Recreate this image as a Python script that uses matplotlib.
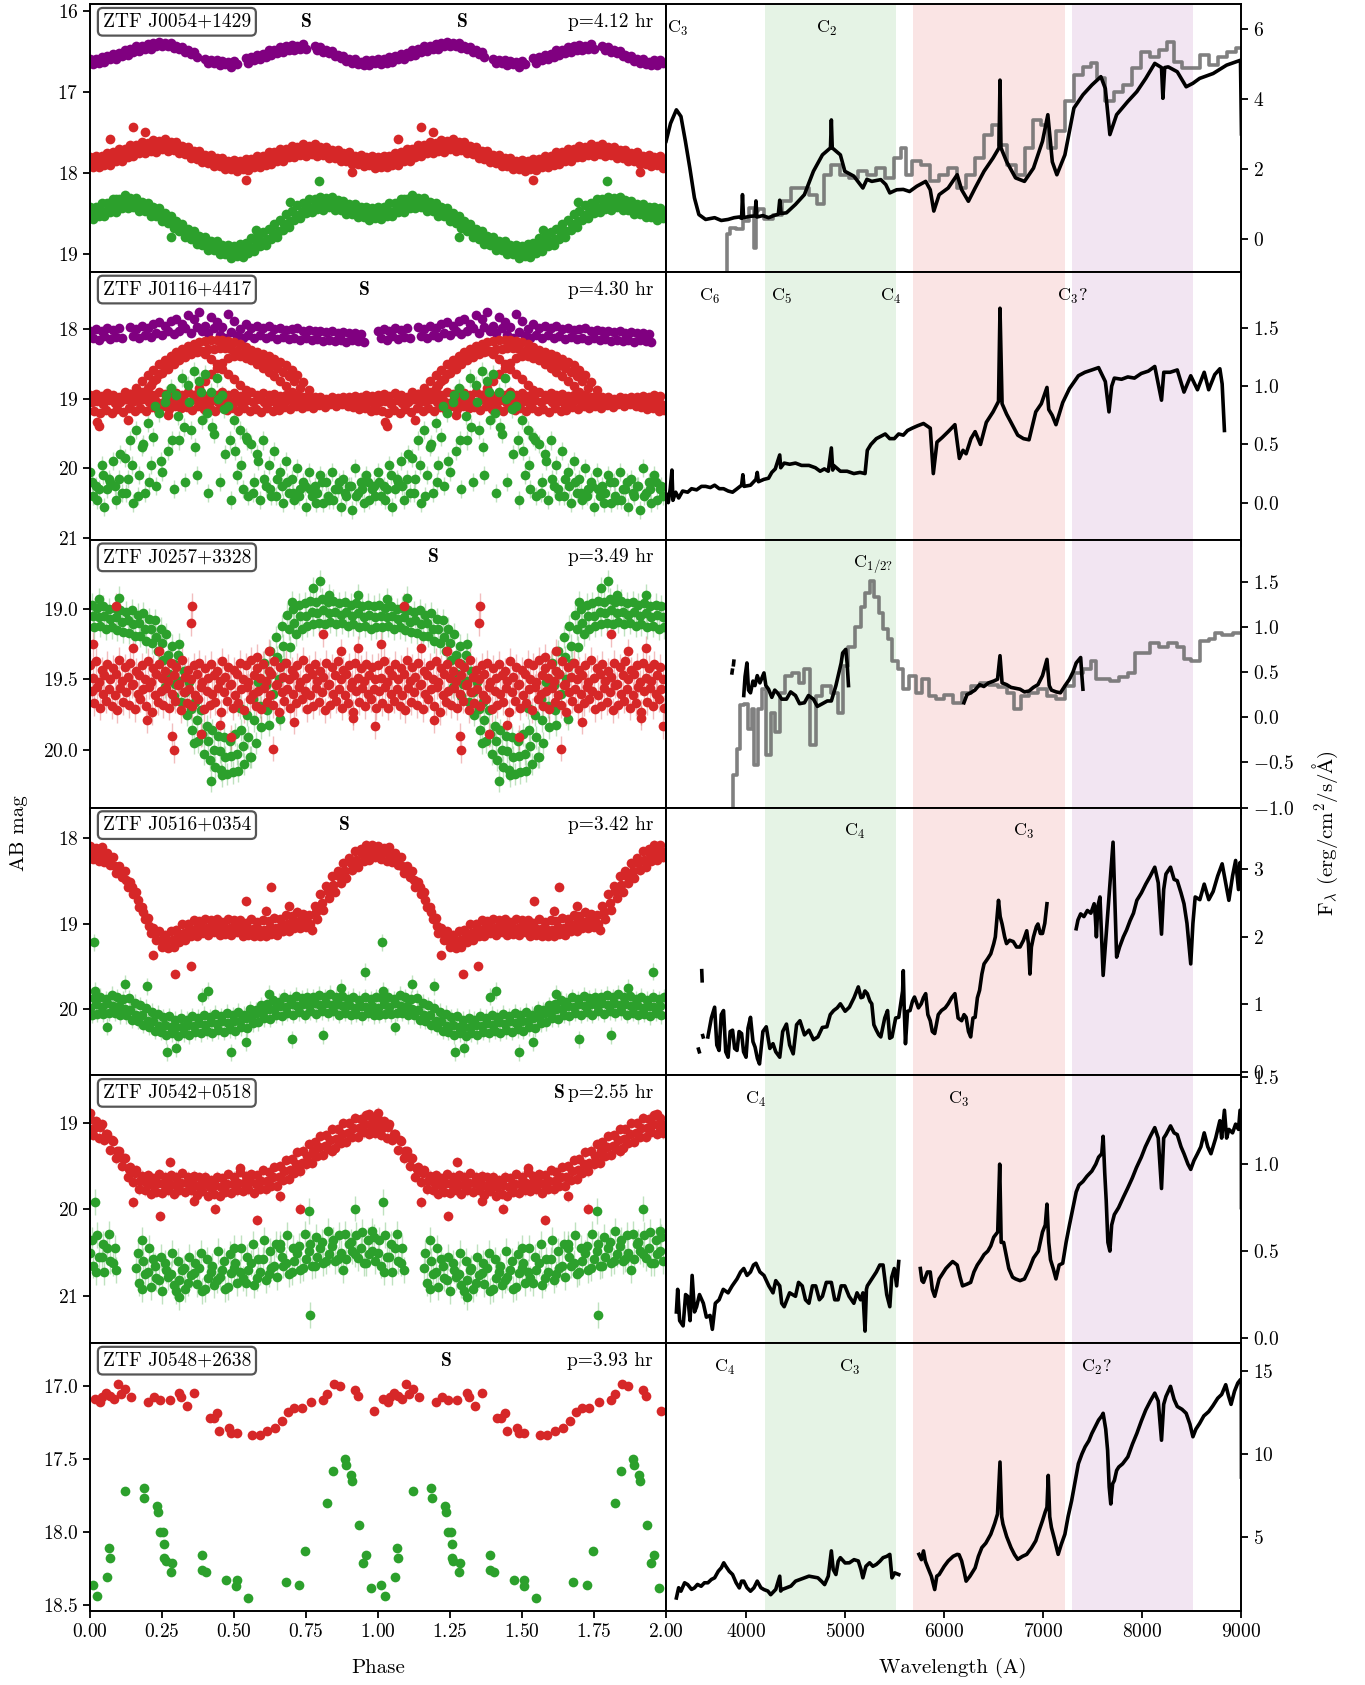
import numpy as np
import matplotlib.pyplot as plt

plt.rcParams.update({
    'font.family': 'serif',
    'font.serif': ['cmr10'],
    'mathtext.fontset': 'cm',
    'axes.formatter.use_mathtext': True,
    'axes.unicode_minus': False,
    'font.size': 14,
    'axes.linewidth': 1.4,
})
nan = np.nan

# ---------------------------------------------------------------- phase grids
PHASE = [0.00, 0.02, 0.04, 0.06, 0.08, 0.10, 0.12, 0.14, 0.16, 0.18,
         0.20, 0.22, 0.24, 0.26, 0.28, 0.30, 0.32, 0.34, 0.36, 0.38,
         0.40, 0.42, 0.44, 0.46, 0.48, 0.50, 0.52, 0.54, 0.56, 0.58,
         0.60, 0.62, 0.64, 0.66, 0.68, 0.70, 0.72, 0.74, 0.76, 0.78,
         0.80, 0.82, 0.84, 0.86, 0.88, 0.90, 0.92, 0.94, 0.96, 0.98]
PHASE_B = [0.01, 0.03, 0.05, 0.07, 0.09, 0.11, 0.13, 0.15, 0.17, 0.19,
           0.21, 0.23, 0.25, 0.27, 0.29, 0.31, 0.33, 0.35, 0.37, 0.39,
           0.41, 0.43, 0.45, 0.47, 0.49, 0.51, 0.53, 0.55, 0.57, 0.59,
           0.61, 0.63, 0.65, 0.67, 0.69, 0.71, 0.73, 0.75, 0.77, 0.79,
           0.81, 0.83, 0.85, 0.87, 0.89, 0.91, 0.93, 0.95, 0.97, 0.99]
PHASE_C = [0.005, 0.025, 0.045, 0.065, 0.085, 0.105, 0.125, 0.145, 0.165, 0.185,
           0.205, 0.225, 0.245, 0.265, 0.285, 0.305, 0.325, 0.345, 0.365, 0.385,
           0.405, 0.425, 0.445, 0.465, 0.485, 0.505, 0.525, 0.545, 0.565, 0.585,
           0.605, 0.625, 0.645, 0.665, 0.685, 0.705, 0.725, 0.745, 0.765, 0.785,
           0.805, 0.825, 0.845, 0.865, 0.885, 0.905, 0.925, 0.945, 0.965, 0.985]
PHASE_D = [0.015, 0.035, 0.055, 0.075, 0.095, 0.115, 0.135, 0.155, 0.175, 0.195,
           0.215, 0.235, 0.255, 0.275, 0.295, 0.315, 0.335, 0.355, 0.375, 0.395,
           0.415, 0.435, 0.455, 0.475, 0.495, 0.515, 0.535, 0.555, 0.575, 0.595,
           0.615, 0.635, 0.655, 0.675, 0.695, 0.715, 0.735, 0.755, 0.775, 0.795,
           0.815, 0.835, 0.855, 0.875, 0.895, 0.915, 0.935, 0.955, 0.975, 0.995]

# ---------------------------------------------------------------- panel info
NAMES = ['ZTF J0054+1429', 'ZTF J0116+4417', 'ZTF J0257+3328',
         'ZTF J0516+0354', 'ZTF J0542+0518', 'ZTF J0548+2638']
PERIODS = ['p=4.12 hr', 'p=4.30 hr', 'p=3.49 hr', 'p=3.42 hr', 'p=2.55 hr', 'p=3.93 hr']
S_PHASES = [[0.75, 1.29], [0.95], [1.19], [0.88], [1.63], [1.235]]
SPEC_LABELS = [
    [('C$_3$', 3310), ('C$_2$', 4818)],
    [('C$_6$', 3637), ('C$_5$', 4363), ('C$_4$', 5457), ('C$_3$?', 7298)],
    [('C$_{1/2?}$', 5283)],
    [('C$_4$', 5100), ('C$_3$', 6800)],
    [('C$_4$', 4103), ('C$_3$', 6150)],
    [('C$_4$', 3788), ('C$_3$', 5045), ('C$_2$?', 7537)],
]
MAG_LIMS = [(19.23, 15.92), (21.03, 17.18), (20.41, 18.51),
            (20.77, 17.65), (21.55, 18.45), (18.54, 16.71)]
MAG_TICKS = [[16, 17, 18, 19], [18, 19, 20, 21], [19.0, 19.5, 20.0],
             [18, 19, 20], [19, 20, 21], [17.0, 17.5, 18.0, 18.5]]
FLUX_LIMS = [(-0.96, 6.71), (-0.32, 1.98), (-1.0, 1.96),
             (-0.05, 3.91), (-0.03, 1.51), (0.49, 16.7)]
FLUX_TICKS = [[0, 2, 4, 6], [0.0, 0.5, 1.0, 1.5], [-1.0, -0.5, 0.0, 0.5, 1.0, 1.5],
              [0, 1, 2, 3], [0.0, 0.5, 1.0, 1.5], [5, 10, 15]]
PHASE_TICKS = [0.0, 0.25, 0.5, 0.75, 1.0, 1.25, 1.5, 1.75, 2.0]
WAVE_TICKS = [4000, 5000, 6000, 7000, 8000, 9000]
BANDS = [(4190, 5515, 'green'), (5690, 7215, 'red'), (7290, 8515, 'purple')]

# ---------------------------------------------------------------- J0054+1429
J0054_P_HI = [16.60, 16.60, 16.57, 16.56, 16.53, 16.52, 16.49, 16.47, 16.44, 16.43,
              16.41, 16.40, 16.38, 16.40, 16.40, 16.43, 16.45, 16.49, 16.51, nan,
              16.59, 16.61, 16.61, 16.62, 16.63, 16.62, nan, 16.58, 16.57, 16.54,
              16.53, 16.49, 16.48, 16.45, 16.44, 16.42, 16.43, 16.41, nan, 16.44,
              16.45, 16.48, 16.50, 16.54, 16.56, 16.60, 16.60, 16.63, 16.61, 16.61]
J0054_P_LO = [16.66, 16.64, 16.63, 16.60, 16.59, 16.56, 16.55, 16.51, 16.50, 16.47,
              16.47, 16.44, 16.44, 16.44, 16.46, 16.47, 16.51, 16.53, 16.57, nan,
              16.65, 16.65, 16.67, 16.66, 16.69, 16.66, nan, 16.64, 16.61, 16.60,
              16.57, 16.55, 16.52, 16.51, 16.48, 16.48, 16.47, 16.47, nan, 16.48,
              16.51, 16.52, 16.56, 16.58, 16.62, 16.64, 16.66, 16.67, 16.67, 16.65]
J0054_R_HI = [17.81, 17.79, 17.80, 17.76, 17.75, 17.71, 17.71, 17.66, 17.66, 17.62,
              17.63, 17.60, 17.61, 17.59, 17.62, 17.62, 17.67, 17.68, 17.73, 17.73,
              17.78, 17.78, 17.82, 17.82, 17.85, 17.84, 17.86, 17.83, 17.83, 17.79,
              17.80, 17.75, 17.75, 17.71, 17.71, 17.67, 17.68, 17.65, 17.67, 17.65,
              17.68, 17.68, 17.72, 17.72, 17.76, 17.75, 17.79, 17.78, 17.81, 17.80]
J0054_R_MID = [17.88, 17.85, 17.86, 17.82, 17.81, 17.77, 17.77, 17.72, 17.72, 17.68,
               17.69, 17.66, 17.67, 17.65, 17.68, 17.68, 17.73, 17.74, 17.79, 17.79,
               17.84, 17.84, 17.88, 17.88, 17.91, 17.90, 17.92, 17.89, 17.89, 17.85,
               17.86, 17.81, 17.81, 17.77, 17.77, 17.73, 17.74, 17.71, 17.73, 17.71,
               17.74, 17.74, 17.78, 17.78, 17.82, 17.81, 17.85, 17.84, 17.87, 17.86]
J0054_R_LO = [17.93, 17.93, 17.90, 17.90, 17.85, 17.85, 17.81, 17.80, 17.76, 17.76,
              17.73, 17.74, 17.71, 17.73, 17.72, 17.76, 17.77, 17.82, 17.83, 17.87,
              17.88, 17.92, 17.92, 17.96, 17.95, 17.98, 17.96, 17.97, 17.93, 17.93,
              17.90, 17.89, 17.85, 17.85, 17.81, 17.81, 17.78, 17.79, 17.77, 17.79,
              17.78, 17.82, 17.82, 17.86, 17.86, 17.89, 17.89, 17.92, 17.91, 17.94]
J0054_R_OUT_PH = [0.07, 0.15, 0.19, 0.54, 0.91]
J0054_R_OUT = [17.58, 17.44, 17.50, 18.09, 17.99]
J0054_G_HI = [18.43, 18.42, 18.38, 18.37, 18.33, 18.32, 18.28, 18.31, 18.31, 18.36,
              18.37, 18.42, 18.44, 18.50, 18.53, 18.60, 18.63, 18.70, 18.72, 18.78,
              18.79, 18.84, 18.85, 18.89, 18.89, 18.91, 18.88, 18.87, 18.81, 18.79,
              18.73, 18.70, 18.63, 18.59, 18.51, 18.47, 18.40, 18.38, 18.33, 18.33,
              18.30, 18.31, 18.30, 18.34, 18.35, 18.39, 18.39, 18.43, 18.42, 18.44]
J0054_G_MID = [18.51, 18.47, 18.47, 18.42, 18.42, 18.37, 18.37, 18.36, 18.40, 18.41,
               18.46, 18.47, 18.53, 18.55, 18.62, 18.65, 18.72, 18.75, 18.81, 18.83,
               18.88, 18.89, 18.94, 18.94, 18.98, 18.96, 18.97, 18.92, 18.90, 18.84,
               18.82, 18.75, 18.72, 18.64, 18.60, 18.52, 18.49, 18.43, 18.42, 18.38,
               18.39, 18.36, 18.39, 18.37, 18.44, 18.42, 18.48, 18.48, 18.51, 18.49]
J0054_G_LO = [18.57, 18.54, 18.54, 18.49, 18.49, 18.44, 18.44, 18.43, 18.47, 18.48,
              18.53, 18.54, 18.60, 18.62, 18.69, 18.72, 18.79, 18.82, 18.88, 18.90,
              18.95, 18.96, 19.01, 19.01, 19.05, 19.03, 19.04, 18.99, 18.97, 18.91,
              18.89, 18.82, 18.79, 18.71, 18.67, 18.59, 18.56, 18.50, 18.49, 18.45,
              18.46, 18.43, 18.46, 18.46, 18.51, 18.51, 18.55, 18.55, 18.58, 18.56]
J0054_G_OUT_PH = [0.09, 0.695, 0.795, 0.575, 0.28]
J0054_G_OUT = [18.33, 18.36, 18.10, 18.71, 18.79]

# ---------------------------------------------------------------- J0116+4417
J0116_P_HI = [18.02, 18.00, 18.03, 17.98, 18.01, 17.99, nan, 17.97, 18.00, 17.95,
              17.98, 17.93, 17.90, 17.95, 17.88, 17.85, 17.92, 17.80, 17.86, 17.76,
              17.95, 17.82, 17.90, 17.97, 17.78, 17.88, 18.00, 17.93, 17.98, 17.95,
              17.99, 17.96, 18.00, 17.98, 18.01, 18.00, 17.99, 18.02, 18.01, 18.03,
              18.02, 18.04, 18.02, 18.05, 18.04, 18.06, 18.05, 18.07, nan, nan]
J0116_P_LO = [18.12, 18.15, 18.10, 18.14, 18.11, 18.13, nan, 18.10, 18.12, 18.08,
              18.11, 18.05, 18.09, 18.03, 18.07, 18.02, 17.98, 18.05, 17.97, 18.03,
              18.06, 17.99, 18.08, 18.12, 18.04, 18.10, 18.13, 18.08, 18.12, 18.09,
              18.13, 18.10, 18.14, 18.11, 18.14, 18.12, 18.15, 18.13, 18.16, 18.14,
              18.17, 18.15, 18.17, 18.16, 18.18, 18.16, 18.17, 18.19, nan, nan]
J0116_R_HI = [18.95, 18.93, 18.96, 18.92, 18.94, 18.97, 18.91, 18.93, 18.95, 18.90,
              18.92, 18.94, 18.91, 18.93, 18.90, 18.92, 18.95, 18.91, 18.94, 18.92,
              18.96, 18.93, 18.95, 18.91, 18.94, 18.92, 18.96, 18.93, 18.90, 18.94,
              18.92, 18.95, 18.93, 18.96, 18.94, 18.97, 18.95, 18.98, 18.96, 18.99,
              18.97, 19.00, 18.98, 18.99, 18.97, 18.98, 18.96, 18.97, 18.95, 18.96]
J0116_R_MID = [19.05, 19.03, 19.07, 19.02, 19.06, 19.04, 19.01, 19.05, 19.03, 19.00,
               19.04, 19.02, 19.06, 19.01, 19.03, 19.05, 19.02, 19.04, 19.00, 19.03,
               19.06, 19.02, 19.04, 19.01, 19.05, 19.03, 19.06, 19.02, 19.04, 19.01,
               19.05, 19.03, 19.06, 19.04, 19.02, 19.05, 19.03, 19.06, 19.04, 19.02,
               19.05, 19.03, 19.06, 19.04, 19.01, 19.05, 19.03, 19.06, 19.04, 19.07]
J0116_R_LO = [19.18, 19.21, 19.16, 19.20, 19.15, 19.19, 19.14, 19.18, 19.13, 19.17,
              19.12, 19.16, 19.11, 19.15, 19.10, 19.14, 19.12, 19.16, 19.11, 19.15,
              19.13, 19.17, 19.12, 19.16, 19.14, 19.18, 19.13, 19.17, 19.15, 19.19,
              19.14, 19.18, 19.16, 19.12, 19.15, 19.11, 19.14, 19.10, 19.13, 19.09,
              19.12, 19.08, 19.11, 19.07, 19.10, 19.12, 19.15, 19.13, 19.17, 19.16]
# the brightened red arcs of J0116
J0116_ARC1_PH = [0.12, 0.14, 0.16, 0.18, 0.20, 0.22, 0.24, 0.26, 0.28, 0.30, 0.32, 0.34,
                 0.36, 0.38, 0.40, 0.42, 0.44, 0.46, 0.48, 0.50, 0.52, 0.54, 0.56, 0.58,
                 0.60, 0.62, 0.64, 0.66, 0.68, 0.70, 0.72, 0.74, 0.76, 0.78]
J0116_ARC1 = [19.00, 18.93, 18.85, 18.75, 18.66, 18.58, 18.50, 18.44, 18.38, 18.33, 18.28, 18.24,
              18.21, 18.19, 18.17, 18.16, 18.15, 18.15, 18.17, 18.19, 18.22, 18.26, 18.30, 18.33,
              18.36, 18.39, 18.43, 18.47, 18.52, 18.58, 18.66, 18.76, 18.88, 18.98]
J0116_ARC2_PH = [0.18, 0.20, 0.22, 0.24, 0.26, 0.28, 0.30, 0.32, 0.34, 0.36,
                 0.38, 0.40, 0.42, 0.44, 0.46, 0.48, 0.50, 0.52, 0.54]
J0116_ARC2 = [18.95, 18.85, 18.75, 18.65, 18.55, 18.47, 18.40, 18.35, 18.31, 18.30,
              18.31, 18.36, 18.43, 18.50, 18.57, 18.64, 18.72, 18.80, 18.88]
J0116_ARC3_PH = [0.36, 0.38, 0.40, 0.42, 0.44, 0.46, 0.48, 0.50, 0.52, 0.54,
                 0.56, 0.58, 0.60, 0.62, 0.64, 0.66, 0.68, 0.70, 0.72]
J0116_ARC3 = [18.95, 18.85, 18.75, 18.65, 18.56, 18.48, 18.42, 18.39, 18.38, 18.41,
              18.45, 18.50, 18.56, 18.62, 18.68, 18.75, 18.82, 18.90, 18.97]
J0116_ARC4_PH = [0.17, 0.19, 0.21, 0.23, 0.25, 0.27, 0.29, 0.31, 0.33, 0.35,
                 0.37, 0.39, 0.41, 0.43, 0.45, 0.47, 0.49, 0.51, 0.53, 0.55,
                 0.57, 0.59, 0.61, 0.63, 0.65, 0.67, 0.69, 0.71, 0.73, 0.75]
J0116_ARC4 = [19.00, 18.90, 18.80, 18.71, 18.63, 18.57, 18.50, 18.45, 18.40, 18.36,
              18.33, 18.31, 18.29, 18.28, 18.27, 18.27, 18.29, 18.31, 18.34, 18.38,
              18.42, 18.45, 18.48, 18.52, 18.56, 18.61, 18.67, 18.74, 18.84, 18.97]
J0116_R_OUT_PH = [0.023, 0.03, 0.27, 0.13]
J0116_R_OUT = [19.34, 19.39, 19.24, 19.30]
J0116_G_A = [20.05, 20.25, 19.95, 20.30, 19.90, 20.15, 19.85, 19.60, 19.45, 19.70,
             19.35, 19.55, 19.20, 19.05, 18.85, 18.95, 18.70, 18.80, 18.60, 18.75,
             18.65, 18.90, 18.70, 18.95, 19.10, 19.30, 19.45, 19.55, 19.65, 19.80,
             19.60, 19.95, 19.75, 20.05, 19.90, 20.15, 20.00, 20.20, 20.05, 20.25,
             20.10, 20.20, 20.05, 20.30, 20.15, 20.25, 20.00, 20.20, 20.10, 20.30]
J0116_G_B = [20.40, 20.30, 20.55, 20.20, 20.45, 20.35, 20.15, 20.50, 20.10, 20.35,
             19.95, 20.25, 20.05, 19.75, 20.30, 19.60, 20.20, 19.45, 20.10, 19.30,
             20.35, 19.50, 20.20, 19.80, 20.45, 20.10, 20.30, 20.40, 20.20, 20.45,
             20.25, 20.40, 20.15, 20.50, 20.35, 20.45, 20.30, 20.55, 20.40, 20.35,
             20.50, 20.45, 20.30, 20.55, 20.40, 20.60, 20.35, 20.50, 20.45, 20.40]
J0116_G_C = [20.20, 20.45, 20.10, 20.15, 20.25, 19.80, 20.35, 19.95, 20.40, 19.65,
             20.20, 19.10, 19.90, 18.95, 19.60, 19.25, 19.40, 19.05, 19.70, 18.90,
             19.20, 19.40, 19.00, 19.15, 19.60, 19.75, 19.95, 19.60, 20.35, 19.90,
             20.15, 20.30, 20.40, 20.25, 20.20, 20.35, 20.40, 20.25, 20.30, 20.50,
             20.20, 20.40, 20.45, 20.20, 20.35, 20.25, 20.40, 20.30, 20.20, 20.25]

# ---------------------------------------------------------------- J0257+3328
J0257_G_HI = [18.97, 18.99, 18.98, 19.00, 18.99, 19.01, 19.02, 19.01, 19.04, 19.03,
              19.07, 19.08, 19.14, 19.18, 19.26, 19.33, 19.44, 19.52, 19.66, 19.72,
              19.83, 19.86, 19.90, 19.91, 19.94, 19.89, 19.86, 19.75, 19.64, 19.52,
              19.38, 19.30, 19.20, 19.12, 19.04, 19.00, 18.97, 18.96, 18.94, 18.95,
              18.93, 18.95, 18.94, 18.96, 18.95, 18.97, 18.96, 18.98, 18.97, 18.98]
J0257_G_MID = [19.05, 19.06, 19.05, 19.07, 19.06, 19.09, 19.08, 19.11, 19.10, 19.14,
               19.14, 19.20, 19.24, 19.33, 19.39, 19.51, 19.59, 19.71, 19.79, 19.89,
               19.94, 20.00, 20.01, 20.05, 20.04, 20.03, 19.97, 19.91, 19.79, 19.69,
               19.54, 19.46, 19.34, 19.26, 19.14, 19.10, 19.05, 19.05, 19.02, 19.03,
               19.01, 19.03, 19.02, 19.04, 19.02, 19.05, 19.03, 19.06, 19.04, 19.06]
J0257_G_LO = [19.13, 19.12, 19.14, 19.13, 19.15, 19.16, 19.17, 19.19, 19.19, 19.23,
              19.24, 19.30, 19.36, 19.46, 19.53, 19.66, 19.75, 19.86, 19.94, 20.03,
              20.07, 20.12, 20.14, 20.17, 20.16, 20.15, 20.10, 20.05, 19.95, 19.84,
              19.72, 19.60, 19.50, 19.38, 19.27, 19.18, 19.14, 19.12, 19.11, 19.10,
              19.11, 19.09, 19.11, 19.10, 19.12, 19.11, 19.13, 19.12, 19.14, 19.13]
J0257_G_OUT_PH = [0.31, 0.26, 0.29, 0.66, 0.62, 0.775, 0.80, 0.83, 0.03,
                  0.10, 0.46, 0.42, 0.52, 0.36, 0.56, 0.70, 0.93]
J0257_G_OUT = [19.25, 19.55, 19.62, 19.78, 19.82, 18.85, 18.80, 18.90, 18.93,
               18.92, 20.18, 20.22, 19.70, 19.95, 20.05, 18.95, 18.90]
J0257_R_A = [19.40, 19.37, 19.43, 19.39, 19.42, 19.36, 19.41, 19.38, 19.44, 19.40,
             19.37, 19.42, 19.39, 19.44, 19.38, 19.41, 19.36, 19.43, 19.40, 19.38,
             19.42, 19.39, 19.44, 19.37, 19.41, 19.43, 19.38, 19.40, 19.36, 19.42,
             19.39, 19.44, 19.37, 19.41, 19.38, 19.43, 19.40, 19.36, 19.42, 19.39,
             19.44, 19.38, 19.41, 19.37, 19.43, 19.40, 19.38, 19.42, 19.39, 19.41]
J0257_R_B = [19.49, 19.52, 19.47, 19.50, 19.46, 19.51, 19.48, 19.53, 19.47, 19.50,
             19.52, 19.46, 19.49, 19.51, 19.47, 19.53, 19.48, 19.50, 19.46, 19.52,
             19.49, 19.47, 19.51, 19.48, 19.53, 19.46, 19.50, 19.52, 19.47, 19.49,
             19.51, 19.46, 19.53, 19.48, 19.50, 19.47, 19.52, 19.49, 19.46, 19.51,
             19.48, 19.53, 19.47, 19.50, 19.46, 19.52, 19.49, 19.51, 19.47, 19.50]
J0257_R_C = [19.58, 19.55, 19.60, 19.57, 19.61, 19.56, 19.59, 19.54, 19.60, 19.57,
             19.55, 19.61, 19.58, 19.56, 19.60, 19.54, 19.59, 19.57, 19.61, 19.55,
             19.58, 19.60, 19.56, 19.59, 19.54, 19.61, 19.57, 19.55, 19.60, 19.58,
             19.56, 19.61, 19.54, 19.59, 19.57, 19.60, 19.55, 19.58, 19.61, 19.56,
             19.59, 19.54, 19.60, 19.57, 19.61, 19.55, 19.58, 19.56, 19.60, 19.57]
J0257_R_D = [19.67, 19.70, 19.65, 19.69, 19.72, 19.66, 19.68, 19.71, 19.64, 19.69,
             19.73, 19.66, 19.68, 19.70, 19.65, 19.72, 19.67, 19.69, 19.64, 19.71,
             19.68, 19.66, 19.73, 19.65, 19.70, 19.67, 19.72, 19.64, 19.69, 19.71,
             19.66, 19.68, 19.73, 19.65, 19.70, 19.67, 19.64, 19.71, 19.69, 19.66,
             19.72, 19.68, 19.65, 19.70, 19.67, 19.73, 19.66, 19.69, 19.64, 19.70]
J0257_R_OUT_PH = [0.089, 0.353, 0.35, 0.81, 0.286, 0.29, 0.49, 0.99, 0.635, 0.386, 0.196,
                  0.915, 0.93, 0.24, 0.01, 0.58, 0.15, 0.62, 0.45, 0.71, 0.87]
J0257_R_OUT = [18.98, 18.98, 19.10, 19.18, 19.90, 20.00, 19.91, 19.83, 19.99, 19.89, 19.79,
               19.77, 19.28, 19.30, 19.25, 19.34, 19.28, 19.30, 19.82, 19.80, 19.30]

# ---------------------------------------------------------------- J0516+0354
J0516_R_HI = [18.10, 18.12, 18.11, 18.18, 18.23, 18.33, 18.39, 18.51, 18.63, 18.81,
              18.93, 19.05, 19.09, 19.13, 19.09, 19.07, 19.01, 19.00, 18.96, 18.97,
              18.95, 18.96, 18.95, 18.98, 18.95, 18.96, 18.96, 18.99, 18.95, 18.98,
              18.96, 18.97, 18.93, 18.95, 18.90, 18.91, 18.86, 18.89, 18.90, 18.80,
              18.66, 18.56, 18.45, 18.39, 18.29, 18.24, 18.16, 18.13, 18.08, 18.09]
J0516_R_MID = [18.19, 18.17, 18.21, 18.24, 18.33, 18.38, 18.49, 18.57, 18.73, 18.87,
               19.03, 19.11, 19.19, 19.19, 19.19, 19.13, 19.11, 19.06, 19.06, 19.03,
               19.05, 19.02, 19.05, 19.04, 19.05, 19.02, 19.06, 19.05, 19.06, 19.06,
               19.07, 19.04, 19.05, 19.01, 19.01, 18.97, 18.97, 18.96, 19.00, 18.87,
               18.76, 18.62, 18.55, 18.45, 18.39, 18.30, 18.26, 18.19, 18.18, 18.15]
J0516_R_LO = [18.25, 18.27, 18.28, 18.32, 18.41, 18.46, 18.57, 18.65, 18.81, 18.95,
              19.11, 19.19, 19.27, 19.28, 19.27, 19.21, 19.19, 19.14, 19.14, 19.11,
              19.13, 19.10, 19.13, 19.12, 19.13, 19.10, 19.14, 19.13, 19.14, 19.14,
              19.15, 19.12, 19.13, 19.09, 19.09, 19.05, 19.05, 19.04, 19.08, 18.95,
              18.84, 18.70, 18.63, 18.53, 18.47, 18.38, 18.34, 18.27, 18.26, 18.23]
J0516_R_OUT_PH = [0.296, 0.349, 0.218, 0.628, 0.542, 0.61, 0.69]
J0516_R_OUT = [19.59, 19.50, 19.37, 18.57, 18.74, 18.85, 18.80]
J0516_G_HI = [19.87, 19.85, 19.88, 19.83, 19.86, 19.88, 19.87, 19.92, 19.95, 19.98,
              20.03, 20.05, 20.09, 20.08, 20.12, 20.10, 20.12, 20.08, 20.10, 20.06,
              20.09, 20.05, 20.08, 20.04, 20.07, 20.03, 20.06, 20.00, 20.01, 19.95,
              19.94, 19.89, 19.91, 19.86, 19.88, 19.84, 19.87, 19.85, 19.86, 19.83,
              19.86, 19.82, 19.86, 19.84, 19.88, 19.85, 19.89, 19.86, 19.88, 19.86]
J0516_G_MID = [19.98, 19.94, 19.97, 19.93, 19.96, 19.96, 19.99, 20.01, 20.06, 20.07,
               20.13, 20.14, 20.19, 20.18, 20.21, 20.20, 20.21, 20.18, 20.19, 20.16,
               20.18, 20.15, 20.17, 20.14, 20.16, 20.13, 20.14, 20.10, 20.09, 20.04,
               20.03, 19.99, 19.99, 19.96, 19.97, 19.94, 19.96, 19.94, 19.95, 19.93,
               19.95, 19.92, 19.95, 19.94, 19.96, 19.95, 19.98, 19.96, 19.97, 19.96]
J0516_G_LO = [20.06, 20.05, 20.05, 20.04, 20.04, 20.07, 20.07, 20.12, 20.13, 20.18,
              20.20, 20.25, 20.26, 20.30, 20.28, 20.31, 20.28, 20.30, 20.26, 20.28,
              20.25, 20.27, 20.24, 20.26, 20.23, 20.25, 20.21, 20.22, 20.16, 20.15,
              20.10, 20.11, 20.06, 20.08, 20.04, 20.06, 20.03, 20.06, 20.02, 20.05,
              20.02, 20.04, 20.02, 20.06, 20.04, 20.07, 20.05, 20.08, 20.04, 20.07]
J0516_G_OUT_PH = [0.013, 0.016, 0.12, 0.196, 0.41, 0.955, 0.267, 0.30,
                  0.49, 0.39, 0.62, 0.87, 0.70, 0.81, 0.54, 0.06]
J0516_G_OUT = [19.22, 19.78, 19.70, 19.73, 19.78, 19.56, 20.50, 20.45,
               20.50, 19.85, 19.82, 19.75, 20.35, 20.30, 20.38, 20.20]

# ---------------------------------------------------------------- J0542+0518
J0542_R_HI = [18.95, 18.98, 19.01, 19.13, 19.21, 19.33, 19.41, 19.51, 19.55, 19.61,
              19.60, 19.64, 19.59, 19.62, 19.60, 19.62, 19.58, 19.62, 19.61, 19.63,
              19.62, 19.66, 19.62, 19.64, 19.59, 19.62, 19.57, 19.61, 19.59, 19.60,
              19.55, 19.57, 19.51, 19.50, 19.43, 19.42, 19.34, 19.32, 19.24, 19.22,
              19.15, 19.14, 19.07, 19.07, 19.00, 19.00, 18.94, 18.95, 18.91, 18.94]
J0542_R_MID = [19.06, 19.05, 19.13, 19.20, 19.33, 19.40, 19.53, 19.58, 19.67, 19.68,
               19.72, 19.70, 19.71, 19.69, 19.72, 19.69, 19.70, 19.68, 19.73, 19.70,
               19.74, 19.72, 19.74, 19.71, 19.71, 19.69, 19.69, 19.67, 19.71, 19.67,
               19.67, 19.63, 19.63, 19.56, 19.55, 19.48, 19.46, 19.38, 19.36, 19.28,
               19.27, 19.20, 19.19, 19.13, 19.12, 19.06, 19.06, 19.01, 19.03, 19.02]
J0542_R_LO = [19.14, 19.17, 19.20, 19.31, 19.41, 19.50, 19.62, 19.68, 19.77, 19.78,
              19.82, 19.80, 19.81, 19.78, 19.82, 19.78, 19.80, 19.78, 19.83, 19.79,
              19.84, 19.82, 19.84, 19.80, 19.81, 19.78, 19.79, 19.77, 19.81, 19.76,
              19.77, 19.73, 19.73, 19.66, 19.65, 19.58, 19.56, 19.48, 19.46, 19.38,
              19.37, 19.30, 19.29, 19.23, 19.22, 19.16, 19.16, 19.11, 19.13, 19.12]
J0542_R_OUT_PH = [0.242, 0.58, 0.435, 0.149, 0.73, 0.775, 0.84, 0.276, 0.52, 0.0, 0.97, 0.36, 0.66]
J0542_R_OUT = [20.08, 20.12, 19.99, 19.92, 19.99, 19.32, 19.33, 19.45, 19.52, 18.88, 18.90, 19.90, 19.85]
J0542_G_A = [20.35, 20.30, 20.40, 20.28, 20.45, nan, nan, nan, 20.50, 20.60,
             20.45, 20.65, 20.55, 20.70, 20.50, 20.60, 20.68, 20.55, 20.62, 20.50,
             20.58, 20.66, 20.48, 20.60, 20.52, 20.62, 20.45, 20.55, 20.40, 20.58,
             20.35, 20.48, 20.40, 20.55, 20.30, 20.45, 20.42, 20.28, 20.40, 20.32,
             20.38, 20.25, 20.35, 20.30, 20.28, 20.38, 20.30, 20.26, 20.35, 20.32]
J0542_G_B = [20.65, 20.55, 20.72, 20.60, 20.70, nan, nan, nan, 20.85, 20.75,
             20.90, 20.80, 20.95, 20.78, 20.88, 20.82, 20.92, 20.76, 20.86, 20.95,
             20.80, 20.88, 20.78, 20.92, 20.74, 20.85, 20.80, 20.70, 20.88, 20.72,
             20.82, 20.68, 20.78, 20.65, 20.75, 20.60, 20.70, 20.58, 20.66, 20.55,
             20.62, 20.52, 20.60, 20.50, 20.58, 20.48, 20.56, 20.62, 20.52, 20.60]
J0542_G_C = [20.50, 20.72, 20.55, 20.45, 20.62, nan, nan, nan, 20.68, 20.92,
             20.72, 20.58, 20.82, 20.62, 20.75, 20.95, 20.70, 20.85, 20.74, 20.68,
             20.92, 20.72, 20.82, 20.70, 20.90, 20.68, 20.72, 20.85, 20.62, 20.80,
             20.58, 20.75, 20.65, 20.45, 20.62, 20.72, 20.50, 20.68, 20.48, 20.65,
             20.45, 20.60, 20.42, 20.58, 20.70, 20.40, 20.52, 20.45, 20.62, 20.48]
J0542_G_OUT_PH = [0.016, 0.76, 0.92, 0.765, 0.31, 0.18, 0.50, 0.66, 0.98]
J0542_G_OUT = [19.92, 20.02, 19.99, 21.22, 21.01, 20.35, 20.45, 20.40, 20.25]

# ---------------------------------------------------------------- J0548+2638
J0548_R_PH = [0.016, 0.036, 0.043, 0.056, 0.069, 0.083, 0.096, 0.109, 0.123, 0.142,
              0.202, 0.222, 0.242, 0.276, 0.309, 0.316, 0.336, 0.362, 0.415, 0.429,
              0.442, 0.449, 0.482, 0.489, 0.509, 0.562, 0.589, 0.615, 0.642, 0.668,
              0.688, 0.708, 0.735, 0.768, 0.808, 0.822, 0.848, 0.868, 0.921, 0.932, 0.985]
J0548_R = [17.09, 17.11, 17.08, 17.05, 17.07, 17.09, 16.99, 17.06, 17.02, 17.08,
           17.11, 17.08, 17.10, 17.10, 17.05, 17.08, 17.14, 17.05, 17.22, 17.22,
           17.19, 17.31, 17.29, 17.32, 17.32, 17.34, 17.34, 17.31, 17.29, 17.24,
           17.18, 17.15, 17.15, 17.11, 17.10, 17.06, 16.99, 17.00, 17.03, 17.07, 17.17]
J0548_G_PH = [0.009, 0.023, 0.059, 0.067, 0.069, 0.123, 0.186, 0.189, 0.232, 0.236,
              0.242, 0.253, 0.258, 0.258, 0.262, 0.285, 0.282, 0.389, 0.389, 0.402,
              0.471, 0.509, 0.506, 0.549, 0.679, 0.726, 0.748, 0.822, 0.844, 0.885,
              0.888, 0.908, 0.911, 0.935, 0.948, 0.959, 0.975]
J0548_G = [18.36, 18.44, 18.31, 18.11, 18.18, 17.72, 17.70, 17.77, 17.82, 17.86,
           18.00, 18.00, 18.08, 18.18, 18.20, 18.21, 18.27, 18.16, 18.26, 18.27,
           18.33, 18.33, 18.37, 18.45, 18.34, 18.36, 18.13, 17.80, 17.58, 17.50,
           17.54, 17.61, 17.65, 17.95, 18.21, 18.16, 18.38]

# ---------------------------------------------------------------- spectra (wavelength [A], flux)
SPEC1_BLACK = [(3193, 2.79), (3238, 3.30), (3297, 3.69), (3343, 3.50), (3388, 2.79), (3433, 2.02),
               (3479, 1.17), (3524, 0.69), (3592, 0.55), (3683, 0.60), (3750, 0.52), (3819, 0.55),
               (3880, 0.60), (3932, 0.62), (3955, 0.58), (3964, 1.26), (3975, 0.60), (4040, 0.64),
               (4091, 0.65), (4100, 1.08), (4110, 0.62), (4170, 0.66), (4227, 0.60), (4280, 0.66),
               (4326, 0.70), (4340, 1.10), (4354, 0.72), (4408, 0.74), (4499, 0.98), (4589, 1.26),
               (4680, 1.93), (4771, 2.40), (4852, 2.60), (4861, 3.40), (4870, 2.60), (4952, 2.40),
               (4997, 1.93), (5088, 1.79), (5179, 1.45), (5220, 1.70), (5269, 1.64), (5360, 1.69),
               (5410, 1.55), (5451, 1.31), (5520, 1.40), (5587, 1.41), (5650, 1.35), (5723, 1.50),
               (5813, 1.64), (5859, 1.40), (5895, 0.79), (5949, 1.26), (6040, 1.45), (6131, 1.83),
               (6176, 1.40), (6244, 1.07), (6312, 1.45), (6402, 1.93), (6493, 2.31), (6553, 2.60),
               (6563, 4.54), (6573, 2.60), (6629, 2.21), (6720, 1.74), (6810, 1.64), (6901, 2.02),
               (6992, 2.79), (7046, 3.55), (7091, 2.20), (7137, 1.83), (7218, 2.40), (7309, 3.74),
               (7400, 4.12), (7490, 4.40), (7581, 4.64), (7626, 4.30), (7672, 2.98), (7740, 3.55),
               (7853, 3.93), (7944, 4.21), (8034, 4.59), (8125, 5.02), (8193, 4.90), (8207, 4.02),
               (8225, 4.90), (8261, 4.92), (8352, 4.78), (8442, 4.35), (8510, 4.45), (8578, 4.59),
               (8714, 4.73), (8850, 4.97), (8990, 5.11), (9000, 3.00)]
SPEC1_GREY = [(3796, -1.20), (3819, 0.12), (3864, 0.31), (3932, 0.27), (4000, 0.50), (4068, 0.88),
              (4091, -0.26), (4113, 0.80), (4136, 0.84), (4227, 0.55), (4317, 0.69), (4408, 1.07),
              (4499, 1.45), (4589, 1.45), (4680, 1.26), (4748, 0.98), (4816, 1.83), (4907, 2.12),
              (4997, 1.83), (5088, 1.74), (5179, 1.93), (5269, 1.83), (5360, 2.02), (5451, 1.74),
              (5541, 2.31), (5587, 2.60), (5632, 1.83), (5723, 2.21), (5813, 2.12), (5904, 1.64),
              (5995, 1.83), (6085, 2.02), (6176, 1.45), (6267, 1.83), (6357, 2.31), (6448, 2.98),
              (6516, 3.26), (6584, 2.69), (6674, 2.12), (6765, 1.83), (6856, 2.60), (6946, 3.40),
              (7014, 3.26), (7082, 2.60), (7173, 3.07), (7263, 3.93), (7354, 4.69), (7445, 4.92),
              (7513, 5.02), (7581, 4.59), (7672, 3.93), (7762, 4.21), (7853, 4.40), (7944, 4.88),
              (8034, 5.35), (8125, 5.21), (8216, 5.40), (8284, 5.64), (8352, 5.07), (8442, 4.88),
              (8533, 4.88), (8624, 5.26), (8714, 4.97), (8805, 5.21), (8895, 5.35), (8986, 5.45)]

SPEC2_BLACK = [(3195, 0.07), (3215, 0.00), (3235, 0.12), (3252, 0.28), (3262, 0.02), (3290, 0.09),
               (3320, 0.04), (3360, 0.10), (3411, 0.09), (3450, 0.12), (3501, 0.11), (3550, 0.14),
               (3592, 0.14), (3640, 0.13), (3683, 0.15), (3730, 0.12), (3773, 0.12), (3820, 0.10),
               (3864, 0.09), (3910, 0.12), (3955, 0.15), (3968, 0.24), (3980, 0.14), (4045, 0.15),
               (4100, 0.20), (4113, 0.26), (4125, 0.18), (4180, 0.20), (4227, 0.21), (4260, 0.26),
               (4295, 0.29), (4340, 0.41), (4350, 0.30), (4385, 0.34), (4440, 0.33), (4499, 0.34),
               (4560, 0.32), (4635, 0.32), (4700, 0.30), (4748, 0.27), (4790, 0.29), (4830, 0.27),
               (4861, 0.47), (4875, 0.28), (4884, 0.32), (4952, 0.27), (5020, 0.27), (5088, 0.25),
               (5150, 0.26), (5201, 0.25), (5224, 0.45), (5260, 0.50), (5315, 0.55), (5360, 0.57),
               (5405, 0.59), (5450, 0.55), (5496, 0.55), (5540, 0.59), (5587, 0.58), (5630, 0.62),
               (5677, 0.64), (5730, 0.66), (5791, 0.68), (5859, 0.64), (5890, 0.25), (5927, 0.52),
               (5980, 0.56), (6040, 0.61), (6108, 0.67), (6153, 0.38), (6190, 0.45), (6221, 0.42),
               (6270, 0.55), (6312, 0.61), (6366, 0.50), (6425, 0.69), (6493, 0.78), (6548, 0.87),
               (6563, 1.67), (6584, 0.85), (6630, 0.76), (6674, 0.69), (6742, 0.58), (6800, 0.55),
               (6856, 0.54), (6924, 0.78), (6980, 0.85), (7037, 0.99), (7055, 0.80), (7090, 0.75),
               (7128, 0.67), (7196, 0.86), (7264, 0.98), (7354, 1.09), (7420, 1.12), (7490, 1.14),
               (7558, 1.16), (7626, 1.04), (7663, 0.78), (7690, 1.00), (7717, 1.07), (7790, 1.06),
               (7853, 1.08), (7920, 1.07), (7989, 1.11), (8060, 1.13), (8125, 1.17), (8193, 0.88),
               (8216, 1.12), (8280, 1.12), (8352, 1.14), (8420, 0.95), (8488, 1.09), (8556, 0.97),
               (8624, 1.12), (8669, 0.97), (8730, 1.10), (8782, 1.15), (8805, 1.02), (8828, 0.62)]

SPEC3_BLACK = [(3858, 0.49), (3862, 0.52), (nan, nan), (3873, 0.58), (3877, 0.62), (nan, nan),
               (3977, 0.24), (3990, 0.45), (4009, 0.60), (4025, 0.30), (4045, 0.27), (4070, 0.40),
               (4090, 0.35), (4113, 0.46), (4140, 0.38), (4181, 0.49), (4200, 0.35), (4227, 0.31),
               (4260, 0.22), (4290, 0.30), (4317, 0.27), (4360, 0.20), (4408, 0.20), (4450, 0.28),
               (4499, 0.24), (4540, 0.15), (4589, 0.16), (4630, 0.24), (4680, 0.20), (4720, 0.12),
               (4771, 0.15), (4820, 0.18), (4861, 0.18), (4907, 0.35), (4960, 0.60), (4975, 0.71),
               (5006, 0.75), (5020, 0.60), (5034, 0.35), (nan, nan),
               (6199, 0.16), (6230, 0.25), (6267, 0.27), (6310, 0.30), (6357, 0.36), (6400, 0.34),
               (6448, 0.38), (6500, 0.40), (6538, 0.42), (6563, 0.68), (6584, 0.38), (6630, 0.36),
               (6674, 0.33), (6720, 0.32), (6765, 0.31), (6810, 0.28), (6856, 0.29), (6900, 0.33),
               (6946, 0.36), (6992, 0.46), (7037, 0.64), (7060, 0.35), (7082, 0.30), (7130, 0.28),
               (7173, 0.27), (7220, 0.35), (7264, 0.42), (7300, 0.50), (7332, 0.60), (7377, 0.66),
               (7390, 0.45), (7400, 0.31)]
SPEC3_GREY = [(3841, -1.20), (3887, -0.64), (3932, -0.35), (3955, 0.13), (4000, 0.15), (4045, -0.13),
              (4068, 0.09), (4100, -0.53), (4136, 0.09), (4181, 0.31), (4227, -0.42), (4272, 0.05),
              (4317, -0.16), (4363, 0.27), (4431, 0.46), (4499, 0.49), (4567, 0.38), (4612, 0.53),
              (4680, -0.31), (4725, 0.24), (4816, 0.35), (4907, 0.27), (4952, 0.05), (4997, 0.57),
              (5065, 0.78), (5133, 1.00), (5179, 1.22), (5224, 1.37), (5269, 1.51), (5315, 1.33),
              (5360, 1.15), (5405, 0.97), (5451, 0.86), (5496, 0.62), (5564, 0.53), (5609, 0.31),
              (5677, 0.46), (5745, 0.27), (5813, 0.42), (5881, 0.24), (5949, 0.20), (6040, 0.25),
              (6131, 0.16), (6221, 0.27), (6312, 0.35), (6402, 0.38), (6493, 0.36), (6584, 0.33),
              (6674, 0.27), (6742, 0.09), (6810, 0.24), (6901, 0.27), (6992, 0.31), (7082, 0.24),
              (7173, 0.20), (7264, 0.35), (7354, 0.49), (7445, 0.53), (7513, 0.62), (7558, 0.42),
              (7626, 0.42), (7717, 0.40), (7808, 0.44), (7898, 0.49), (7944, 0.71), (8034, 0.71),
              (8125, 0.82), (8216, 0.78), (8306, 0.82), (8397, 0.78), (8442, 0.64), (8533, 0.62),
              (8624, 0.84), (8714, 0.86), (8760, 0.93), (8850, 0.91), (8986, 0.93)]

SPEC4_BLACK = [(3520, 0.34), (3528, 0.30), (nan, nan), (3553, 1.50), (3557, 1.35), (nan, nan),
               (3563, 0.54), (3567, 0.52), (nan, nan),
               (3615, 0.52), (3650, 0.80), (3683, 0.96), (3705, 0.40), (3728, 0.32), (3750, 0.85),
               (3773, 0.91), (3795, 0.30), (3819, 0.22), (3840, 0.60), (3864, 0.62), (3885, 0.35),
               (3909, 0.32), (3930, 0.60), (3955, 0.57), (3975, 0.30), (4000, 0.22), (4020, 0.65),
               (4045, 0.81), (4070, 0.45), (4091, 0.37), (4115, 0.20), (4136, 0.12), (4170, 0.60),
               (4204, 0.67), (4240, 0.35), (4272, 0.42), (4300, 0.30), (4340, 0.22), (4370, 0.60),
               (4408, 0.71), (4440, 0.40), (4476, 0.27), (4510, 0.70), (4544, 0.76), (4590, 0.55),
               (4635, 0.62), (4680, 0.48), (4725, 0.52), (4770, 0.66), (4816, 0.67), (4850, 0.85),
               (4884, 0.91), (4920, 0.95), (4952, 1.01), (5000, 0.90), (5043, 0.96), (5090, 1.10),
               (5133, 1.26), (5160, 1.10), (5179, 1.11), (5200, 1.20), (5224, 1.16), (5250, 1.05),
               (5269, 1.01), (5290, 0.70), (5315, 0.62), (5340, 0.55), (5360, 0.52), (5400, 0.80),
               (5428, 0.91), (5450, 0.50), (5473, 0.52), (5510, 0.80), (5541, 0.81), (5580, 1.20),
               (5587, 1.50), (5595, 1.00), (5609, 0.42), (5630, 0.90), (5655, 0.91), (5680, 1.05),
               (5700, 1.11), (5740, 0.95), (5768, 1.01), (5790, 1.10), (5813, 1.16), (5835, 0.85),
               (5859, 0.76), (5880, 0.60), (5904, 0.57), (5940, 0.85), (5972, 0.91), (6010, 0.95),
               (6040, 1.01), (6075, 1.10), (6108, 1.16), (6140, 0.80), (6176, 0.76), (6200, 0.85),
               (6221, 0.81), (6245, 0.60), (6267, 0.52), (6290, 0.80), (6312, 0.81), (6335, 1.10),
               (6357, 1.21), (6380, 1.45), (6402, 1.60), (6440, 1.68), (6470, 1.75), (6500, 1.90),
               (6516, 2.00), (6548, 2.54), (6565, 2.30), (6584, 2.19), (6610, 2.00), (6629, 1.90),
               (6660, 1.95), (6697, 1.93), (6730, 1.85), (6765, 1.85), (6800, 1.95), (6833, 2.09),
               (6850, 1.90), (6865, 1.45), (6880, 1.85), (6901, 2.00), (6930, 2.15), (6946, 2.19),
               (6970, 2.05), (6992, 2.05), (7015, 2.20), (7037, 2.49), (nan, nan),
               (7332, 2.12), (7350, 2.25), (7377, 2.34), (7410, 2.30), (7445, 2.39), (7480, 2.35),
               (7513, 2.49), (7525, 2.30), (7536, 2.00), (7550, 2.45), (7572, 2.59), (7604, 1.43),
               (7704, 3.40), (7740, 1.70), (7770, 1.85), (7808, 2.00), (7840, 2.10), (7876, 2.24),
               (7910, 2.35), (7944, 2.54), (7990, 2.65), (8034, 2.78), (8080, 2.90), (8125, 3.03),
               (8160, 2.80), (8193, 2.04), (8215, 2.70), (8238, 2.93), (8284, 3.03), (8320, 2.85),
               (8352, 2.83), (8390, 2.65), (8420, 2.49), (8450, 2.20), (8488, 1.60), (8510, 2.20),
               (8533, 2.59), (8580, 2.55), (8624, 2.78), (8670, 2.55), (8714, 2.67), (8760, 2.90),
               (8805, 3.08), (8840, 2.80), (8873, 2.54), (8910, 2.90), (8941, 3.13), (8970, 2.70),
               (8986, 3.10), (9000, 2.90)]

SPEC5_BLACK = [(3297, 0.15), (3310, 0.28), (3330, 0.10), (3365, 0.07), (3390, 0.25), (3411, 0.24),
               (3435, 0.10), (3456, 0.36), (3480, 0.15), (3501, 0.18), (3530, 0.25), (3569, 0.20),
               (3600, 0.12), (3637, 0.13), (3660, 0.05), (3690, 0.20), (3728, 0.22), (3770, 0.28),
               (3819, 0.26), (3860, 0.30), (3909, 0.34), (3945, 0.38), (3977, 0.40), (4010, 0.36),
               (4045, 0.38), (4075, 0.42), (4100, 0.43), (4140, 0.38), (4181, 0.36), (4230, 0.30),
               (4272, 0.26), (4300, 0.33), (4340, 0.30), (4360, 0.20), (4385, 0.18), (4440, 0.26),
               (4499, 0.24), (4530, 0.32), (4567, 0.30), (4600, 0.22), (4635, 0.20), (4670, 0.30),
               (4703, 0.30), (4740, 0.22), (4771, 0.24), (4810, 0.32), (4861, 0.32), (4895, 0.22),
               (4929, 0.22), (4960, 0.30), (4997, 0.30), (5040, 0.24), (5088, 0.20), (5120, 0.26),
               (5156, 0.22), (5180, 0.26), (5201, 0.04), (5215, 0.28), (5224, 0.30), (5270, 0.34),
               (5315, 0.38), (5350, 0.42), (5383, 0.42), (5420, 0.25), (5451, 0.18), (5470, 0.35),
               (5496, 0.40), (5520, 0.30), (5541, 0.44), (nan, nan),
               (5759, 0.40), (5775, 0.33), (5791, 0.32), (5830, 0.38), (5859, 0.38), (5880, 0.28),
               (5904, 0.24), (5949, 0.34), (6017, 0.40), (6050, 0.42), (6085, 0.44), (6131, 0.42),
               (6160, 0.35), (6185, 0.30), (6230, 0.31), (6267, 0.32), (6300, 0.38), (6334, 0.42),
               (6370, 0.45), (6402, 0.48), (6440, 0.50), (6470, 0.53), (6500, 0.58), (6540, 0.61),
               (6560, 1.00), (6575, 0.55), (6600, 0.55), (6652, 0.40), (6690, 0.35), (6720, 0.34),
               (6765, 0.33), (6810, 0.34), (6860, 0.40), (6901, 0.46), (6950, 0.50), (6992, 0.61),
               (7020, 0.65), (7037, 0.77), (7055, 0.55), (7073, 0.45), (7100, 0.40), (7128, 0.34),
               (7160, 0.42), (7196, 0.43), (7230, 0.55), (7264, 0.65), (7300, 0.75), (7332, 0.84),
               (7360, 0.88), (7400, 0.90), (7440, 0.93), (7490, 0.96), (7530, 1.00), (7558, 1.04),
               (7590, 1.06), (7604, 1.16), (7620, 0.95), (7635, 0.79), (7652, 0.55), (7672, 0.50),
               (7690, 0.65), (7717, 0.71), (7760, 0.75), (7808, 0.81), (7850, 0.86), (7898, 0.92),
               (7940, 0.98), (7989, 1.04), (8030, 1.10), (8080, 1.16), (8125, 1.21), (8160, 1.15),
               (8193, 0.86), (8215, 1.15), (8238, 1.17), (8284, 1.22), (8320, 1.18), (8352, 1.17),
               (8390, 1.10), (8420, 1.06), (8460, 1.00), (8488, 0.97), (8520, 1.02), (8556, 1.06),
               (8590, 1.10), (8624, 1.18), (8660, 1.10), (8692, 1.06), (8740, 1.15), (8782, 1.25),
               (8800, 1.15), (8828, 1.31), (8850, 1.15), (8873, 1.20), (8910, 1.18), (8941, 1.23),
               (8970, 1.20), (8986, 1.31), (8998, 1.31), (9000, 0.75)]

SPEC6_BLACK = [(3297, 1.28), (3320, 1.90), (3343, 1.69), (3380, 2.20), (3411, 2.09), (3450, 1.80),
               (3479, 1.89), (3510, 2.10), (3547, 1.99), (3580, 2.20), (3615, 2.20), (3650, 2.40),
               (3683, 2.50), (3720, 2.90), (3751, 3.11), (3775, 3.41), (3796, 3.20), (3830, 2.90),
               (3864, 2.70), (3900, 2.20), (3932, 1.89), (3955, 2.30), (3977, 2.30), (4010, 1.90),
               (4045, 1.69), (4080, 1.90), (4113, 2.30), (4150, 1.90), (4181, 1.79), (4220, 1.70),
               (4249, 1.48), (4300, 1.80), (4340, 2.60), (4350, 1.70), (4363, 1.79), (4410, 1.90),
               (4453, 2.00), (4500, 2.30), (4544, 2.40), (4590, 2.50), (4635, 2.60), (4680, 2.55),
               (4725, 2.50), (4760, 2.30), (4793, 2.09), (4830, 2.60), (4861, 4.13), (4880, 3.00),
               (4907, 2.70), (4930, 3.50), (4952, 3.72), (5000, 3.40), (5043, 3.41), (5090, 3.60),
               (5133, 3.52), (5160, 3.00), (5179, 2.50), (5210, 3.20), (5247, 3.41), (5280, 3.20),
               (5315, 3.31), (5350, 3.50), (5383, 3.72), (5420, 3.80), (5451, 3.92), (5465, 3.00),
               (5473, 2.50), (5500, 2.80), (5541, 2.70), (nan, nan),
               (5745, 3.92), (5770, 3.60), (5791, 4.13), (5810, 3.50), (5836, 3.10), (5870, 2.60),
               (5904, 1.79), (5925, 2.60), (5949, 2.70), (6000, 3.20), (6040, 3.52), (6090, 3.80),
               (6131, 3.92), (6150, 3.90), (6176, 3.52), (6200, 2.90), (6221, 2.30), (6260, 2.60),
               (6312, 3.10), (6345, 3.80), (6380, 4.33), (6420, 4.60), (6470, 5.14), (6510, 5.80),
               (6538, 6.36), (6563, 9.51), (6580, 6.20), (6593, 5.75), (6630, 5.00), (6674, 4.33),
               (6710, 3.90), (6742, 3.62), (6790, 3.80), (6833, 3.92), (6880, 4.30), (6924, 4.74),
               (6960, 5.40), (6992, 5.96), (7020, 6.50), (7037, 6.77), (7050, 8.70), (7065, 6.20),
               (7082, 5.55), (7110, 4.90), (7150, 3.92), (7180, 4.50), (7218, 5.14), (7250, 6.20),
               (7286, 7.17), (7320, 8.30), (7354, 9.41), (7390, 10.00), (7422, 10.43), (7460, 10.80),
               (7490, 11.24), (7520, 11.60), (7558, 12.05), (7590, 12.30), (7604, 12.46), (7630, 11.50),
               (7649, 10.22), (7665, 8.00), (7681, 6.97), (7700, 8.20), (7717, 8.39), (7740, 9.00),
               (7762, 9.21), (7800, 9.40), (7853, 9.82), (7900, 10.60), (7944, 11.24), (7990, 12.00),
               (8034, 12.66), (8080, 13.20), (8125, 13.68), (8160, 13.20), (8193, 10.83), (8215, 13.00),
               (8238, 13.48), (8284, 14.09), (8320, 13.30), (8352, 12.87), (8400, 12.70), (8442, 12.46),
               (8480, 11.80), (8510, 11.04), (8540, 11.50), (8578, 11.85), (8620, 12.30), (8669, 12.56),
               (8710, 12.90), (8760, 13.37), (8800, 13.60), (8841, 14.19), (8870, 13.50), (8895, 13.00),
               (8930, 13.80), (8963, 14.29), (8990, 14.50), (8998, 14.30), (9000, 8.60)]

SPEC_BLACK = [SPEC1_BLACK, SPEC2_BLACK, SPEC3_BLACK, SPEC4_BLACK, SPEC5_BLACK, SPEC6_BLACK]
SPEC_GREY = [SPEC1_GREY, None, SPEC3_GREY, None, None, None]

# ---------------------------------------------------------------- plotting
RED, GREEN, PURPLE = '#d62728', '#2ca02c', '#800080'
BAND_COLORS = {'green': GREEN, 'red': RED, 'purple': PURPLE}


def lc(ax, ph, mag, color, err=0.0):
    # phase-folded light curve, drawn twice (phase 0-1 and 1-2)
    ph = np.asarray(ph, float)
    mag = np.asarray(mag, float)
    x = np.concatenate([ph, ph + 1])
    y = np.concatenate([mag, mag])
    if err:
        ax.errorbar(x, y, yerr=err, fmt='none', ecolor=color, alpha=0.3,
                    elinewidth=1.0, zorder=1)
    ax.plot(x, y, 'o', color=color, ms=7, mew=0, zorder=2)


def spec(ax, pairs, grey=False):
    a = np.array(pairs, float)
    if grey:
        ax.plot(a[:, 0], a[:, 1], color='#6a6a6a', alpha=0.85, lw=2.6,
                drawstyle='steps-mid', zorder=1)
    else:
        ax.plot(a[:, 0], a[:, 1], color='k', lw=2.6, zorder=2)


fig, axes = plt.subplots(6, 2, figsize=(13.65, 16.85), dpi=100)
fig.subplots_adjust(left=0.066, right=0.9095, top=0.9974, bottom=0.0439,
                    hspace=0, wspace=0)

# row 1
ax = axes[0, 0]
lc(ax, PHASE, J0054_P_HI, PURPLE)
lc(ax, PHASE_B, J0054_P_LO, PURPLE)
lc(ax, PHASE, J0054_R_HI, RED)
lc(ax, PHASE_C, J0054_R_MID, RED)
lc(ax, PHASE_B, J0054_R_LO, RED)
lc(ax, J0054_R_OUT_PH, J0054_R_OUT, RED)
lc(ax, PHASE, J0054_G_HI, GREEN)
lc(ax, PHASE_D, J0054_G_MID, GREEN)
lc(ax, PHASE_B, J0054_G_LO, GREEN)
lc(ax, J0054_G_OUT_PH, J0054_G_OUT, GREEN)

# row 2
ax = axes[1, 0]
lc(ax, PHASE, J0116_P_HI, PURPLE)
lc(ax, PHASE_B, J0116_P_LO, PURPLE)
lc(ax, PHASE, J0116_R_HI, RED, 0.05)
lc(ax, PHASE_C, J0116_R_MID, RED, 0.05)
lc(ax, PHASE_D, J0116_R_LO, RED, 0.05)
lc(ax, J0116_ARC1_PH, J0116_ARC1, RED, 0.05)
lc(ax, J0116_ARC2_PH, J0116_ARC2, RED, 0.05)
lc(ax, J0116_ARC3_PH, J0116_ARC3, RED, 0.05)
lc(ax, J0116_ARC4_PH, J0116_ARC4, RED, 0.05)
lc(ax, J0116_R_OUT_PH, J0116_R_OUT, RED, 0.05)
lc(ax, PHASE, J0116_G_A, GREEN, 0.13)
lc(ax, PHASE_B, J0116_G_B, GREEN, 0.13)
lc(ax, PHASE_C, J0116_G_C, GREEN, 0.13)

# row 3
ax = axes[2, 0]
lc(ax, PHASE_C, J0257_G_HI, GREEN, 0.08)
lc(ax, PHASE_B, J0257_G_MID, GREEN, 0.08)
lc(ax, PHASE_D, J0257_G_LO, GREEN, 0.08)
lc(ax, J0257_G_OUT_PH, J0257_G_OUT, GREEN, 0.08)
lc(ax, PHASE, J0257_R_A, RED, 0.09)
lc(ax, PHASE_B, J0257_R_B, RED, 0.09)
lc(ax, PHASE_C, J0257_R_C, RED, 0.09)
lc(ax, PHASE_D, J0257_R_D, RED, 0.09)
lc(ax, J0257_R_OUT_PH, J0257_R_OUT, RED, 0.09)

# row 4
ax = axes[3, 0]
lc(ax, PHASE, J0516_R_HI, RED, 0.05)
lc(ax, PHASE_C, J0516_R_MID, RED, 0.05)
lc(ax, PHASE_B, J0516_R_LO, RED, 0.05)
lc(ax, J0516_R_OUT_PH, J0516_R_OUT, RED, 0.05)
lc(ax, PHASE_D, J0516_G_HI, GREEN, 0.1)
lc(ax, PHASE, J0516_G_MID, GREEN, 0.1)
lc(ax, PHASE_C, J0516_G_LO, GREEN, 0.1)
lc(ax, J0516_G_OUT_PH, J0516_G_OUT, GREEN, 0.1)

# row 5
ax = axes[4, 0]
lc(ax, PHASE, J0542_R_HI, RED, 0.06)
lc(ax, PHASE_D, J0542_R_MID, RED, 0.06)
lc(ax, PHASE_B, J0542_R_LO, RED, 0.06)
lc(ax, J0542_R_OUT_PH, J0542_R_OUT, RED, 0.06)
lc(ax, PHASE_C, J0542_G_A, GREEN, 0.15)
lc(ax, PHASE_B, J0542_G_B, GREEN, 0.15)
lc(ax, PHASE, J0542_G_C, GREEN, 0.15)
lc(ax, J0542_G_OUT_PH, J0542_G_OUT, GREEN, 0.15)

# row 6
ax = axes[5, 0]
lc(ax, J0548_R_PH, J0548_R, RED)
lc(ax, J0548_G_PH, J0548_G, GREEN)

for i in range(6):
    axl, axr = axes[i, 0], axes[i, 1]

    # light-curve panel
    axl.set_xlim(0, 2)
    axl.set_ylim(*MAG_LIMS[i])
    axl.set_xticks(PHASE_TICKS)
    axl.set_yticks(MAG_TICKS[i])
    axl.tick_params(direction='out', length=5, width=1.3, labelsize=14)
    axl.text(0.022, 0.935, NAMES[i], transform=axl.transAxes, ha='left', va='center',
             fontsize=14, bbox=dict(boxstyle='round,pad=0.25', fc='white',
                                    ec='#555555', lw=1.6))
    axl.text(0.978, 0.935, PERIODS[i], transform=axl.transAxes, ha='right',
             va='center', fontsize=14)
    for s in S_PHASES[i]:
        axl.text(s, 0.935, r'$\mathbf{S}$', transform=axl.get_xaxis_transform(),
                 ha='center', va='center', fontsize=14)

    # spectrum panel
    for lo, hi, c in BANDS:
        axr.axvspan(lo, hi, color=BAND_COLORS[c], alpha=0.12 if c != 'purple' else 0.1,
                    lw=0, zorder=0)
    if SPEC_GREY[i] is not None:
        spec(axr, SPEC_GREY[i], grey=True)
    spec(axr, SPEC_BLACK[i])
    axr.set_xlim(3190, 9000)
    axr.set_ylim(*FLUX_LIMS[i])
    axr.set_xticks(WAVE_TICKS)
    axr.set_yticks(FLUX_TICKS[i])
    axr.yaxis.tick_right()
    axr.tick_params(direction='out', length=5, width=1.3, labelsize=14)
    for lab, wl in SPEC_LABELS[i]:
        axr.text(wl, 0.91, lab, transform=axr.get_xaxis_transform(),
                 ha='center', va='center', fontsize=13)

    if i < 5:
        axl.tick_params(labelbottom=False)
        axr.tick_params(labelbottom=False)

fig.text(0.014, 0.5056, 'AB mag', rotation=90, ha='center', va='center', fontsize=15)
fig.text(0.971, 0.5056, r'F$_\lambda$ (erg/cm$^2$/s/$\mathrm{\AA}$)', rotation=90,
         ha='center', va='center', fontsize=15)
fig.text(0.277, 0.0101, 'Phase', ha='center', va='center', fontsize=15)
fig.text(0.698, 0.0101, 'Wavelength (A)', ha='center', va='center', fontsize=15)

fig.savefig('out.png', dpi=100)
